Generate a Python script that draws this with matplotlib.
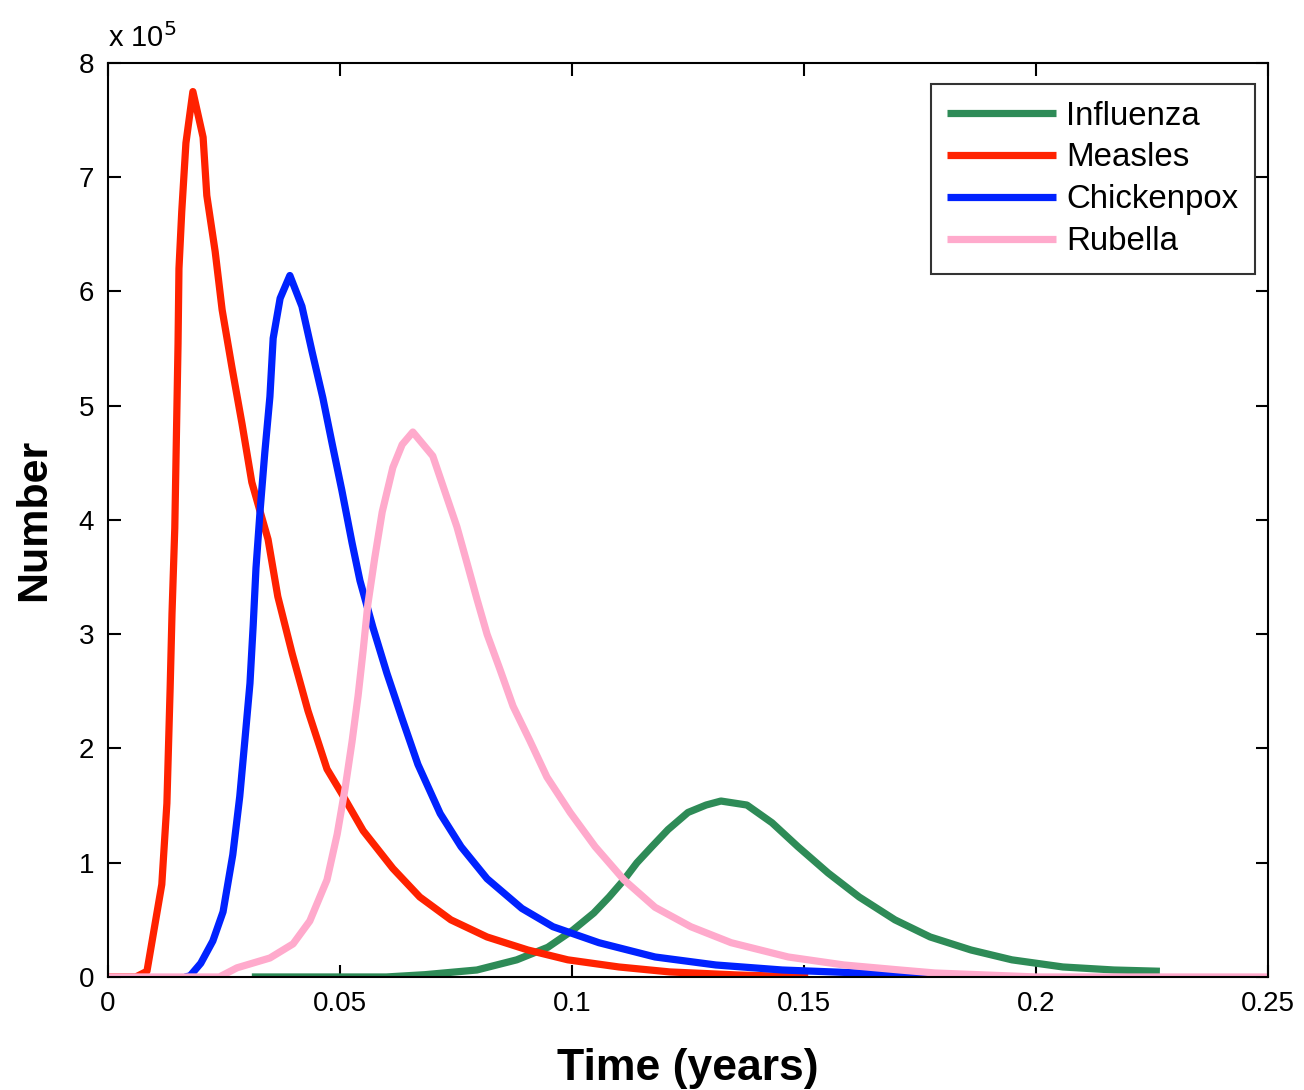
import numpy as np
import matplotlib
matplotlib.use("Agg")
import matplotlib.pyplot as plt
from matplotlib.ticker import FuncFormatter

plt.rcParams['font.family'] = ['Liberation Sans', 'DejaVu Sans']

# values (time in years, number of cases)
measles_t = [0.0, 0.006, 0.0084, 0.0116, 0.0127, 0.0134, 0.0138, 0.0144, 0.0151,
             0.0153, 0.0159, 0.0168, 0.0183, 0.0205, 0.0213, 0.0231, 0.0246, 0.0267,
             0.0289, 0.0310, 0.0345, 0.0366, 0.0397, 0.0431, 0.0472, 0.0506, 0.0550,
             0.0614, 0.0672, 0.0739, 0.0817, 0.0905, 0.0991, 0.1101, 0.1211, 0.1356,
             0.1509]
measles_n = [0, 0, 5000, 81000, 152000, 253000, 318000, 393000, 554000,
             620000, 670000, 730000, 775000, 735000, 684000, 635000, 584000, 534000,
             484000, 433000, 383000, 333000, 283000, 233000, 182000, 159000, 128000,
             95000, 70000, 50000, 35000, 23600, 15000, 8750, 4400, 1750,
             0]

chickenpox_t = [0.0166, 0.0177, 0.0200, 0.0226, 0.0248, 0.0269, 0.0284, 0.0295,
                0.0306, 0.0313, 0.0319, 0.0328, 0.0338, 0.0349, 0.0356, 0.0371,
                0.0392, 0.0418, 0.0440, 0.0463, 0.0483, 0.0504, 0.0526, 0.0543,
                0.0571, 0.0601, 0.0634, 0.0668, 0.0716, 0.0761, 0.0817, 0.0892,
                0.0959, 0.1058, 0.1179, 0.1310, 0.1453, 0.1619, 0.1772]
chickenpox_n = [0, 1000, 12000, 31500, 57000, 107000, 158000, 207000,
                257000, 308000, 358000, 409000, 459000, 508000, 559000, 594000,
                614000, 587000, 547000, 507000, 467000, 426000, 380000, 347000,
                306000, 266000, 226000, 186000, 143000, 114000, 86000, 60000,
                44000, 30000, 17500, 10500, 6100, 3500, 0]

rubella_t = [0.0, 0.0240, 0.0278, 0.0349, 0.0399, 0.0435, 0.0472, 0.0494, 0.0511,
             0.0526, 0.0539, 0.0550, 0.0560, 0.0575, 0.0591, 0.0614, 0.0634, 0.0657,
             0.0700, 0.0726, 0.0752, 0.0774, 0.0795, 0.0817, 0.0845, 0.0873, 0.0909,
             0.0946, 0.0996, 0.1050, 0.1112, 0.1179, 0.1256, 0.1343, 0.1466, 0.1586,
             0.1707, 0.1782, 0.20, 0.25]
rubella_n = [0, 0, 8000, 16600, 29000, 49000, 85000, 125000, 165000,
             206000, 246000, 286000, 326000, 367000, 407000, 446000, 466000, 477000,
             456000, 425000, 394000, 362000, 331000, 300000, 269000, 237000, 207000,
             175000, 144000, 114000, 85000, 61000, 44000, 30000, 17500, 10500,
             6100, 3500, 0, 0]

influenza_t = [0.031, 0.060, 0.0683, 0.0795, 0.0881, 0.0948, 0.1002, 0.1047, 0.1080,
               0.1112, 0.1140, 0.1172, 0.1207, 0.1250, 0.1289, 0.1321, 0.1377,
               0.1431, 0.1487, 0.1552, 0.1619, 0.1696, 0.1772, 0.1860, 0.1948,
               0.2058, 0.2168, 0.2267]
influenza_n = [0, 0, 2000, 6100, 15000, 26000, 41000, 56000, 70000,
               85000, 100000, 114000, 129000, 144000, 150500, 154000, 150500,
               135000, 114000, 91000, 70000, 50000, 35000, 23600, 15000,
               8750, 6100, 5000]

xticks = [0, 0.05, 0.1, 0.15, 0.2, 0.25]
xtick_labels = ['0', '0.05', '0.1', '0.15', '0.2', '0.25']

fig = plt.figure(figsize=(13.04, 10.9), dpi=100)
ax = fig.add_axes([0.0828, 0.1037, 0.8896, 0.8385])

lw = 5.2
style = dict(lw=lw, solid_joinstyle='round', solid_capstyle='butt')
ax.plot(influenza_t, influenza_n, color='#2E8B57', label='Influenza', **style)
ax.plot(measles_t, measles_n, color='#FF2200', label='Measles', **style)
ax.plot(chickenpox_t, chickenpox_n, color='#0022FF', label='Chickenpox', **style)
ax.plot(rubella_t, rubella_n, color='#FFAACC', label='Rubella', **style)

ax.set_xlim(0, 0.25)
ax.set_ylim(0, 800000)
ax.set_xticks(xticks)
ax.set_xticklabels(xtick_labels)
ax.yaxis.set_major_formatter(FuncFormatter(lambda v, p: f'{v / 1e5:g}'))
ax.text(0.0, 1.011, 'x 10$^{5}$', transform=ax.transAxes, fontsize=21,
        ha='left', va='bottom')

ax.tick_params(direction='in', length=9, width=1.5, labelsize=20,
               top=True, right=True, pad=10)
for s in ax.spines.values():
    s.set_linewidth(1.5)

ax.set_xlabel('Time (years)', fontsize=32, fontweight='bold', va='top')
ax.xaxis.set_label_coords(0.5, -0.0775)
ax.set_ylabel('Number', fontsize=31, fontweight='bold', va='bottom')
ax.yaxis.set_label_coords(-0.046, 0.5)

leg = ax.legend(loc='upper right', bbox_to_anchor=(0.9888, 0.977), borderaxespad=0,
                fontsize=23.8, handlelength=3.3, frameon=True, fancybox=False,
                edgecolor='black', handletextpad=0.3, labelspacing=0.33,
                borderpad=0.5)
leg.get_frame().set_linewidth(1.5)

plt.savefig('out.png', dpi=100)
